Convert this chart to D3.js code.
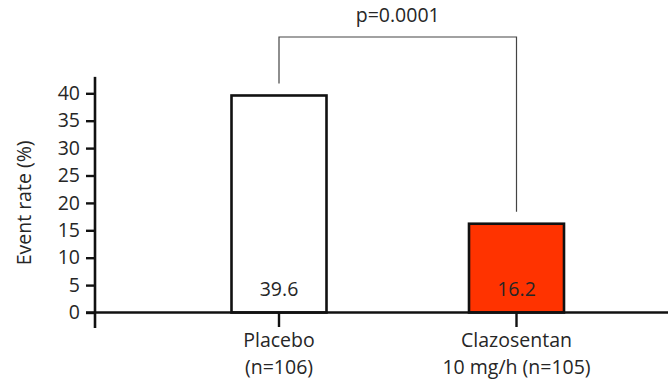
<!DOCTYPE html>
<html>
<head>
<meta charset="utf-8">
<script src="https://cdn.jsdelivr.net/npm/d3@7"></script>
<style>
  html, body { margin: 0; padding: 0; background: #fff; }
  svg text { font-family: "Open Sans", "Noto Sans", sans-serif; fill: #262626; }
</style>
</head>
<body>
<svg id="chart" width="668" height="380"></svg>
<script>
const categories = ["Placebo", "Clazosentan"];
const categoryLines = [["Placebo", "(n=106)"], ["Clazosentan", "10 mg/h (n=105)"]];
const eventRates = [39.6, 16.2];
const barColors = ["#ffffff", "#ff3300"];
const yTicks = [0, 5, 10, 15, 20, 25, 30, 35, 40];
const pLabel = "p=0.0001";
const yTitle = "Event rate (%)";

const FS = "19.5px";
const svg = d3.select("#chart");
const y0 = 312.5, yTop40 = 93.3;
const y = d3.scaleLinear().domain([0, 40]).range([y0, yTop40]);
const x = d3.scalePoint().domain(categories).range([279, 516.5]);
const barW = 95;
const axisX = 95;

// bars
svg.selectAll("rect.bar").data(categories).enter().append("rect")
  .attr("x", d => x(d) - barW / 2)
  .attr("y", (d, i) => y(eventRates[i]))
  .attr("width", barW)
  .attr("height", (d, i) => y(0) - y(eventRates[i]))
  .attr("fill", (d, i) => barColors[i])
  .attr("stroke", "#111")
  .attr("stroke-width", 2.6);

// value labels
svg.selectAll("text.val").data(categories).enter().append("text")
  .attr("x", d => x(d))
  .attr("y", 296)
  .attr("text-anchor", "middle")
  .style("font-size", FS)
  .text((d, i) => eventRates[i].toFixed(1));

// y axis
const yAxis = d3.axisLeft(y).tickValues(yTicks).tickSize(9).tickPadding(6);
const gy = svg.append("g").attr("transform", `translate(${axisX},0)`).call(yAxis);
gy.select(".domain").remove();
gy.selectAll(".tick line").attr("stroke", "#111").attr("stroke-width", 2.4);
gy.selectAll(".tick text").style("font-size", FS).attr("fill", "#262626")
  .style("font-family", "'Open Sans', 'Noto Sans', sans-serif");
svg.append("line").attr("x1", axisX).attr("x2", axisX)
  .attr("y1", y(43)).attr("y2", 328)
  .attr("stroke", "#111").attr("stroke-width", 2.6);

// x axis line
svg.append("line").attr("x1", 86).attr("x2", 668)
  .attr("y1", y(0)).attr("y2", y(0))
  .attr("stroke", "#111").attr("stroke-width", 2.6);

// category ticks and labels
categories.forEach((c, i) => {
  svg.append("line").attr("x1", x(c)).attr("x2", x(c))
    .attr("y1", y(0)).attr("y2", 327)
    .attr("stroke", "#111").attr("stroke-width", 2.4);
  categoryLines[i].forEach((t, j) => {
    svg.append("text").attr("x", x(c)).attr("y", 347 + j * 26.5)
      .attr("text-anchor", "middle").style("font-size", FS).text(t);
  });
});

// y title
svg.append("text")
  .attr("transform", `translate(31, ${y(20)}) rotate(-90)`)
  .attr("text-anchor", "middle")
  .style("font-size", FS)
  .text(yTitle);

// significance bracket
const bracketY = 37;
const gap = 12;
svg.append("path")
  .attr("d", `M${x(categories[0])},${y(eventRates[0]) - gap} V${bracketY} H${x(categories[1])} V${y(eventRates[1]) - gap}`)
  .attr("fill", "none").attr("stroke", "#444").attr("stroke-width", 1.2);
svg.append("text")
  .attr("x", (x(categories[0]) + x(categories[1])) / 2)
  .attr("y", 22)
  .attr("text-anchor", "middle")
  .style("font-size", FS)
  .text(pLabel);
</script>
</body>
</html>
